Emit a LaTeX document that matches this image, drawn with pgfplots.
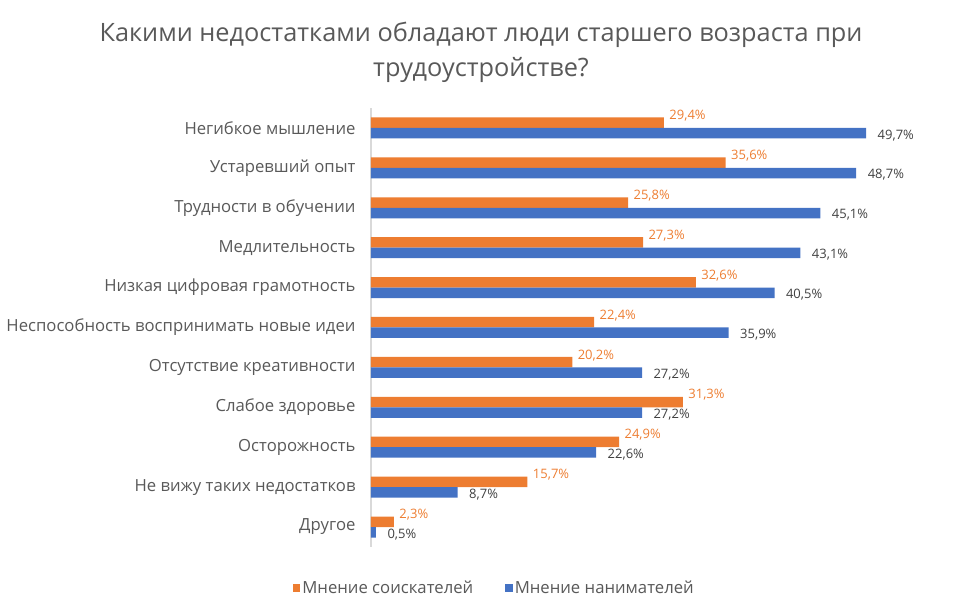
\documentclass[border=0pt]{standalone}
\usepackage{fontspec}
\setmainfont{Open Sans}
\usepackage{pgfplots}
\pgfplotsset{compat=1.18}
\definecolor{cOrange}{HTML}{ED7D31}
\definecolor{cBlue}{HTML}{4472C4}
\definecolor{cText}{HTML}{595959}
\definecolor{cDark}{HTML}{404040}
\definecolor{cAxis}{HTML}{D9D9D9}
\begin{document}
\begin{tikzpicture}[x=1pt,y=1pt]
\path[use as bounding box] (0,0) rectangle (962,613);
\node[align=center, text=cText, font=\fontsize{25.3}{35}\selectfont] at (481,561)
  {Какими недостатками обладают люди старшего возраста при\\трудоустройстве?};
\begin{axis}[
    at={(371pt,66pt)}, anchor=south west,
    scale only axis,
    width=548pt, height=439pt,
    xbar, bar width=10.5pt,
    xmin=0, xmax=55,
    ymin=-0.5, ymax=10.5,
    hide x axis,
    axis y line=left,
    axis line style={-, cAxis, line width=1.5pt},
    ytick={0,...,10},
    yticklabels={Другое, Не вижу таких недостатков, Осторожность, Слабое здоровье,
      Отсутствие креативности, Неспособность воспринимать новые идеи,
      Низкая цифровая грамотность, Медлительность, Трудности в обучении,
      Устаревший опыт, Негибкое мышление},
    major tick length=0pt,
    yticklabel style={text=cText, font=\fontsize{16.7}{19}\selectfont, xshift=-12pt},
    clip=false,
    /pgf/number format/assume math mode=true,
    nodes near coords={\pgfmathprintnumber[fixed,fixed zerofill,precision=1,use comma]{\pgfplotspointmeta}\%},
    legend style={at={(axis description cs:0.225,-0.093)}, anchor=center, draw=none,
      font=\fontsize{16.7}{19}\selectfont, text=cText,
      legend columns=2, /tikz/every even column/.append style={column sep=30pt}},
    legend image code/.code={\fill[#1] (-1pt,-4pt) rectangle (6.5pt,3.5pt);},
]
\addplot[fill=cOrange, draw=none, bar shift=5.25pt,
  every node near coord/.append style={text=cOrange, anchor=west, font=\fontsize{13}{15}\selectfont, xshift=2pt, yshift=7pt}]
  coordinates {
    (29.4,10) (35.6,9) (25.8,8) (27.3,7) (32.6,6) (22.4,5)
    (20.2,4) (31.3,3) (24.9,2) (15.7,1) (2.3,0)
  };
\addlegendentry{Мнение соискателей}
\addplot[fill=cBlue, draw=none, bar shift=-5.25pt,
  every node near coord/.append style={text=cDark, anchor=west, font=\fontsize{13}{15}\selectfont, xshift=8pt, yshift=-2pt}]
  coordinates {
    (49.7,10) (48.7,9) (45.1,8) (43.1,7) (40.5,6) (35.9,5)
    (27.2,4) (27.2,3) (22.6,2) (8.7,1) (0.5,0)
  };
\addlegendentry{Мнение нанимателей}
\end{axis}
\end{tikzpicture}
\end{document}
